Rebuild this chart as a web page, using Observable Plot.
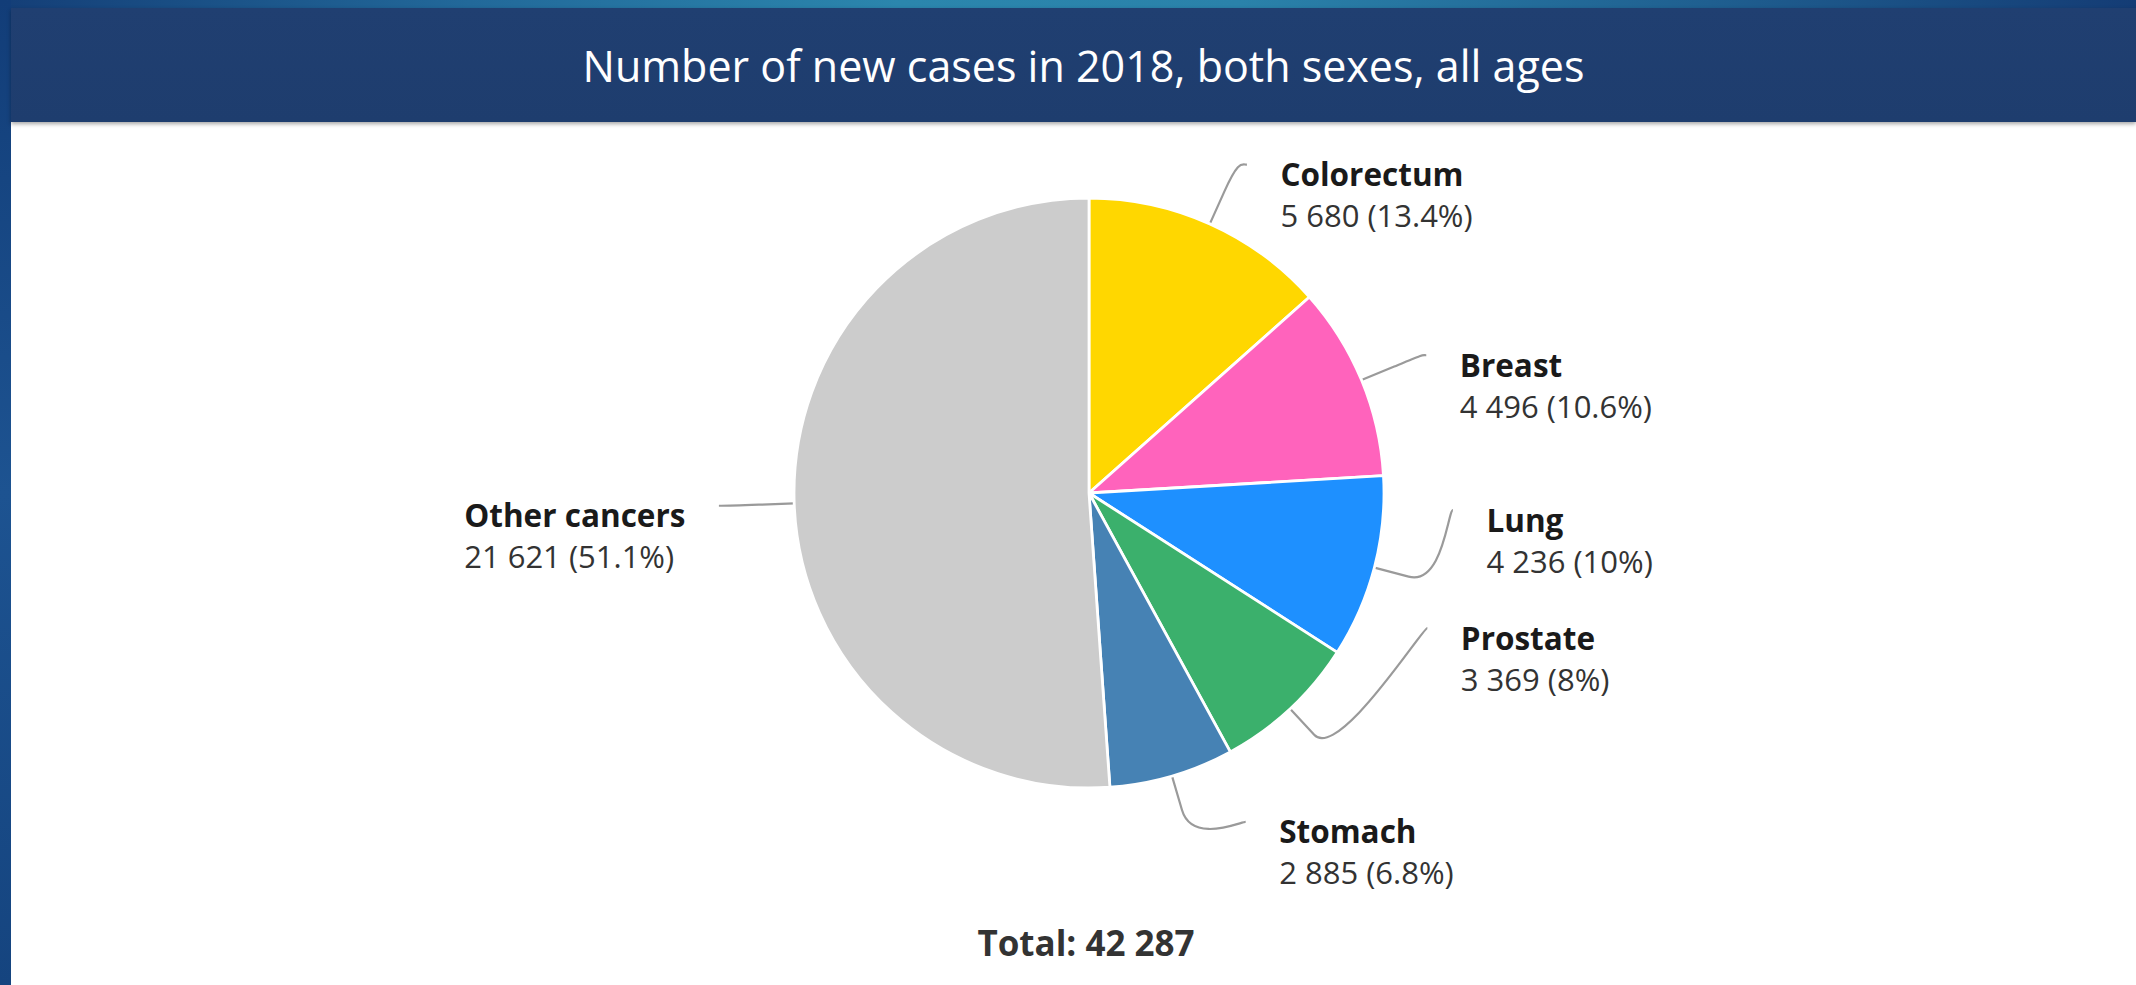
<!DOCTYPE html>
<html><head><meta charset="utf-8">
<script src="https://cdn.jsdelivr.net/npm/d3@7"></script>
<script src="https://cdn.jsdelivr.net/npm/@observablehq/plot@0.6"></script>
<style>
html{margin:0;padding:0;overflow:hidden;background:#ffffff;}
body{margin:0;padding:0;position:absolute;left:0;top:0;width:2400px;height:985px;
  background:#ffffff;font-family:"Open Sans",sans-serif;}
#leftstrip{position:absolute;left:0;top:0;width:11px;height:985px;
  background:linear-gradient(180deg,#123d78 0%,#1d5391 50%,#15447f 100%);}
#topstrip{position:absolute;left:0;top:0;width:2400px;height:8px;
  background:linear-gradient(90deg,#143e77 0px,#22699a 470px,#2b86ad 900px,#2a82aa 1240px,#1f5f90 1710px,#143c75 2136px,#143c75 2400px);}
#panel{position:absolute;left:11px;top:8px;width:2300px;height:977px;background:#fff;}
#header{height:114px;width:2125px;background:linear-gradient(180deg,#203f71 0%,#1e3d6e 100%);color:#fff;font-size:43px;
  display:flex;align-items:center;justify-content:center;padding-left:20px;box-sizing:border-box;
  box-shadow:0 2px 4px rgba(0,0,0,.35);position:relative;z-index:1;}
#chart svg{display:block;}
#total{width:2125px;height:62px;line-height:62px;text-align:center;padding-left:25px;box-sizing:border-box;font-weight:bold;font-size:35px;color:#333;}
</style></head>
<body>
<div id="topstrip"></div>
<div id="leftstrip"></div>
<div id="panel">
  <div id="header">Number of new cases in 2018, both sexes, all ages</div>
  <div id="chart"></div>
  <div id="total"></div>
</div>
<script>
// ---- data ----
const cancers = ["Colorectum", "Breast", "Lung", "Prostate", "Stomach", "Other cancers"];
const newCases = [5680, 4496, 4236, 3369, 2885, 21621];
const sliceColors = ["#FFD700", "#FF63BC", "#1E90FF", "#3BB06C", "#4682B4", "#CCCCCC"];
const totalCases = 42287;

// ---- layout ----
const W = 2125, H = 790;          // svg size
const PX = 295;                    // pixels per pie radius
const cxPx = 1078, cyPx = 371;     // pie centre inside the svg
const labelRadius = 1.235, breakRadius = 1.12, naturalRadius = 1.22;
// label heights shifted by the label distributor (null = natural position)
const labelYOverride = [null, null, -0.058, -0.458, -1.115, null];
const nameFont = {size: 31.5, weight: "bold"}, valueFont = {size: 31, weight: "normal"};

const rows = cancers.map((name, i) => ({name, value: newCases[i]}));
const arcs = d3.pie().sort(null).value(d => d.value)(rows);
const fmt = v => d3.format(",")(v).replace(/,/g, " ");
const pct = v => +(v / totalCases * 100).toFixed(1);

const ctx = document.createElement("canvas").getContext("2d");
const measure = (t, f) => { ctx.font = `${f.weight} ${f.size}px "Open Sans"`; return ctx.measureText(t).width; };

const labels = arcs.map((a, i) => {
  const mid = (a.startAngle + a.endAngle) / 2;
  const right = Math.sin(mid) > 0;
  const ay = labelYOverride[i] ?? naturalRadius * Math.cos(mid);
  const ax = (right ? 1 : -1) * Math.sqrt(labelRadius ** 2 - ay ** 2);
  const name = a.data.name;
  const val = `${fmt(a.data.value)} (${pct(a.data.value)}%)`;
  const bw = Math.max(measure(name, nameFont), measure(val, valueFont));
  const tx = right ? ax + 33 / PX : ax - (40 + bw) / PX;
  return {name, val, mid, right, ax, ay, tx};
});

const chart = Plot.plot({
  width: W, height: H, margin: 0,
  x: {domain: [-cxPx / PX, (W - cxPx) / PX], axis: null},
  y: {domain: [-(H - cyPx) / PX, cyPx / PX], axis: null},
  color: {domain: cancers, range: sliceColors},
  style: {background: "white", fontFamily: "'Open Sans', sans-serif", overflow: "visible"},
  marks: [
    // connectors
    Plot.dot(labels, {x: "ax", y: "ay", render: (index, scales, values) => {
      const cx = scales.x(0), cy = scales.y(0), r = scales.x(1) - scales.x(0);
      const g = d3.create("svg:g").attr("fill", "none").attr("stroke", "#9a9a9a").attr("stroke-width", 2.2);
      for (const i of index) {
        const L = labels[i];
        const ux = Math.sin(L.mid), uy = -Math.cos(L.mid);
        const t = [cx + r * ux, cy + r * uy];
        const b = [cx + breakRadius * r * ux, cy + breakRadius * r * uy];
        const ax = values.x[i] + (L.right ? 0 : -6), ay = values.y[i];
        const p = d3.path();
        p.moveTo(ax, ay);
        p.bezierCurveTo(ax + (L.right ? -5 : 5), ay, 2 * b[0] - t[0], 2 * b[1] - t[1], b[0], b[1]);
        p.lineTo(t[0], t[1]);
        g.append("path").attr("d", p.toString());
      }
      return g.node();
    }}),
    // slices
    Plot.dot(arcs, {x: () => 0, y: () => 0, fill: d => d.data.name, render: (index, scales, values) => {
      const cx = scales.x(0), cy = scales.y(0), r = scales.x(1) - scales.x(0);
      const arc = d3.arc().innerRadius(0).outerRadius(r);
      const g = d3.create("svg:g").attr("transform", `translate(${cx},${cy})`);
      g.selectAll("path").data(index).join("path")
        .attr("d", i => arc(arcs[i]))
        .attr("fill", i => values.fill[i])
        .attr("stroke", "#fff").attr("stroke-width", 2.8).attr("stroke-linejoin", "round");
      return g.node();
    }}),
    Plot.text(labels, {x: "tx", y: "ay", text: "name", textAnchor: "start", lineAnchor: "bottom", dy: 21,
      fontSize: nameFont.size, fontWeight: "bold", fill: "#1a1a1a"}),
    Plot.text(labels, {x: "tx", y: "ay", text: "val", textAnchor: "start", lineAnchor: "bottom", dy: 62,
      fontSize: valueFont.size, fill: "#333333"})
  ]
});
document.getElementById("chart").appendChild(chart);
document.getElementById("total").textContent = `Total: ${fmt(totalCases)}`;
</script>
</body></html>
